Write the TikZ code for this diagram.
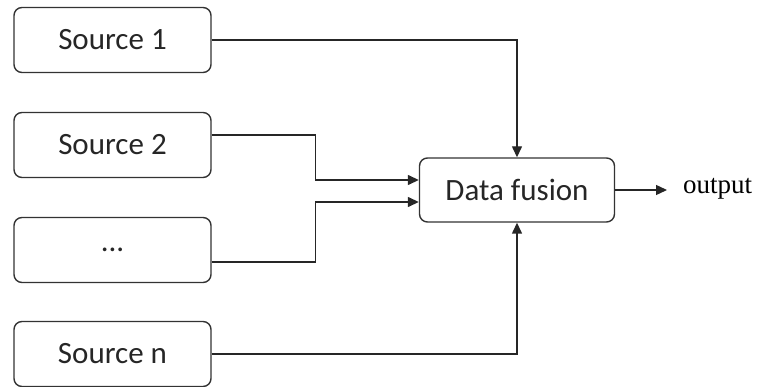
\documentclass[tikz,border=0pt]{standalone}
\usepackage{fontspec}
\setmainfont{Carlito}
\newfontfamily\outfont{Liberation Serif}
\usepackage{tikz}
\usetikzlibrary{arrows.meta}

\begin{document}
\begin{tikzpicture}[x=1pt,y=-1pt,
  box/.style={draw=black!80,line width=1.4pt,rounded corners=8pt,minimum width=197pt,minimum height=65pt,inner sep=0pt,font=\fontsize{31}{34}\selectfont,text=black!85},
  link/.style={line width=1.4pt,draw=black!85,-{Triangle[length=11pt,width=10pt]}}]
\useasboundingbox (0,0) rectangle (760,387);

\foreach \name/\y/\txt in {s1/40/{Source 1}, s2/145/{Source 2}, dots/250/{{...}}, sn/354/{Source n}}{
    \node[box] (\name) at (112.5,\y) {\txt};
}
\node[box,minimum width=195pt,minimum height=64pt] (fus) at (517,190) {Data fusion};
\node[anchor=west,inner sep=0pt,font=\outfont\fontsize{27}{30}\selectfont] (out) at (683,189) {output};

\draw[link] (s1.east) -| (fus.north);
\draw[link] ([yshift=10pt]s2.east) -- ++(104,0) |- ([yshift=10pt]fus.west);
\draw[link] ([yshift=-12pt]dots.east) -- ++(104,0) |- ([yshift=-12pt]fus.west);
\draw[link] (sn.east) -| (fus.south);
\draw[link,shorten >=16pt] (fus.east) -- (fus.east -| out.west);
\end{tikzpicture}
\end{document}
